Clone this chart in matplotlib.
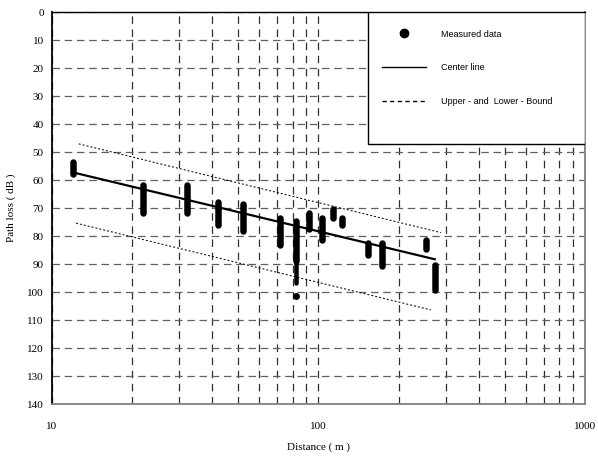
import matplotlib
matplotlib.use("Agg")
import matplotlib.pyplot as plt
from matplotlib.patches import Rectangle
from matplotlib.lines import Line2D
from matplotlib.ticker import FixedLocator, NullFormatter, FixedFormatter

# ---- data ----
stack_dist = [12.0, 22.0, 32.0, 42.0, 52.0, 72.0, 82.4, 92.4, 103, 113, 123, 153, 172.5, 253, 273]
stack_lo   = [53.6, 61.8, 61.8, 68.0, 68.5, 73.6, 74.7, 71.8, 73.6, 70.4, 73.6, 82.5, 82.5, 81.3, 90.3]
stack_hi   = [57.9, 71.8, 71.8, 76.0, 78.2, 83.3, 89.0, 77.4, 81.3, 73.4, 76.2, 86.9, 90.7, 84.5, 99.4]
tail_dist = [82.4]          # thinner lower part of the 82 m stack
tail_lo   = [89.0]
tail_hi   = [96.8]
outlier_dist = [82.4]
outlier_pl   = [101.3]

center_dist = [12.0, 273.0]
center_pl   = [57.3, 88.3]
upper_dist  = [12.6, 288.0]
upper_pl    = [47.1, 78.8]
lower_dist  = [12.3, 264.0]
lower_pl    = [75.4, 106.4]

yticks = list(range(0, 141, 10))
xmajor = [10, 100, 1000]
xmajor_labels = ["10", "100", "1000"]
xminor = [20, 30, 40, 50, 60, 70, 80, 90, 200, 300, 400, 500, 600, 700, 800, 900]

legend_labels = ["Measured data", "Center line", "Upper - and  Lower - Bound"]

serif = "Liberation Serif"
sans = "Liberation Sans"

fig = plt.figure(figsize=(5.98, 4.59), dpi=100)
ax = fig.add_axes([52/598, 1-404/459, 533/598, 392/459])

ax.set_xscale("log")
ax.set_xlim(10, 1000)
ax.set_ylim(140, 0)

# measured data stacks
px = 72/100
ax.vlines(stack_dist, stack_lo, stack_hi, colors="black", linewidth=6.5*px,
          capstyle="round", zorder=4)
ax.vlines(tail_dist, tail_lo, tail_hi, colors="black", linewidth=4.5*px,
          capstyle="round", zorder=4)
ax.plot(outlier_dist, outlier_pl, "o", color="black", markersize=5.5*px, zorder=4)

# lines
ax.plot(center_dist, center_pl, color="black", linewidth=2.2*px, zorder=5)
ax.plot(upper_dist, upper_pl, color="black", linewidth=1.0*px, dashes=(2, 2), zorder=3)
ax.plot(lower_dist, lower_pl, color="black", linewidth=1.0*px, dashes=(2, 2), zorder=3)

# ticks
ax.xaxis.set_major_locator(FixedLocator(xmajor))
ax.xaxis.set_major_formatter(FixedFormatter(xmajor_labels))
ax.xaxis.set_minor_locator(FixedLocator(xminor))
ax.xaxis.set_minor_formatter(NullFormatter())
ax.set_yticks(yticks)
ax.tick_params(axis="both", which="both", length=0)
ax.tick_params(axis="x", pad=13)
ax.tick_params(axis="y", pad=6)
for lab in ax.get_xticklabels() + ax.get_yticklabels():
    lab.set_fontfamily(serif)
    lab.set_fontsize(8)

# grid
ax.set_axisbelow(True)
ax.xaxis.grid(True, which="both", color="#303030", linewidth=0.9, dashes=(6, 4.5))
ax.yaxis.grid(True, which="major", color="#606060", linewidth=0.9, dashes=(6, 3.8))

# spines
ax.spines["left"].set_color("black")
ax.spines["left"].set_linewidth(1.3)
ax.spines["top"].set_color("black")
ax.spines["top"].set_linewidth(1.0)
ax.spines["right"].set_color("#808080")
ax.spines["right"].set_linewidth(1.3)
ax.spines["bottom"].set_color("#808080")
ax.spines["bottom"].set_linewidth(1.3)

ax.set_xlabel("Distance ( m )", fontfamily=serif, fontsize=8, labelpad=8)
ax.set_ylabel("Path loss ( dB )", fontfamily=serif, fontsize=8, labelpad=8)

# legend box
rect = Rectangle((0.593, 0.663), 0.407, 0.337, transform=ax.transAxes,
                 facecolor="white", edgecolor="black", linewidth=1.0, zorder=6)
ax.add_patch(rect)
handles = [
    Line2D([], [], linestyle="none", marker="o", color="black", markersize=6),
    Line2D([], [], color="black", linewidth=1.0),
    Line2D([], [], color="black", linewidth=1.0, dashes=(3, 2.5)),
]
leg = ax.legend(handles, legend_labels, loc="upper left",
                bbox_to_anchor=(0.620, 0.955), frameon=False, borderpad=0,
                borderaxespad=0, handlelength=4.8, handletextpad=1.7,
                labelspacing=2.75, prop={"family": sans, "size": 6.5})
leg.set_zorder(7)

fig.savefig("out.png", dpi=100)
